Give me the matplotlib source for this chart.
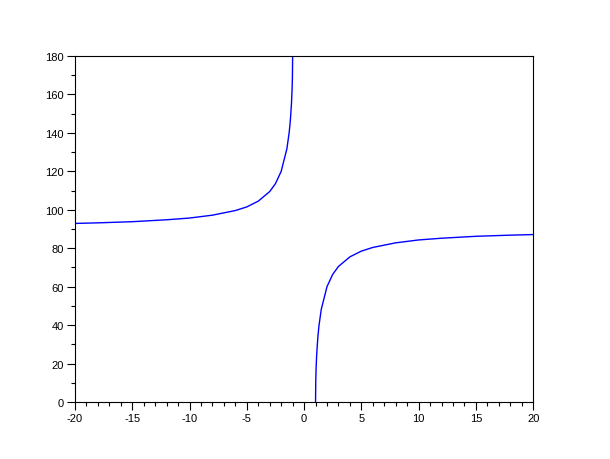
import matplotlib.pyplot as plt
from matplotlib.ticker import MultipleLocator

plt.rcParams['font.family'] = ['Liberation Sans', 'DejaVu Sans']
plt.rcParams['axes.unicode_minus'] = False

# values
x_left = [-20, -18, -15, -12, -10, -8, -6, -5, -4, -3, -2.5, -2, -1.5, -1.3, -1.2, -1.1, -1.05, -1.02, -1.0]
y_left = [92.9, 93.2, 93.8, 94.8, 95.7, 97.2, 99.6, 101.5, 104.5, 109.5, 113.6, 120.0, 131.8, 140.3, 146.4, 155.4, 162.3, 168.7, 180.0]
x_right = [1.0, 1.02, 1.05, 1.1, 1.2, 1.3, 1.5, 2, 2.5, 3, 4, 5, 6, 8, 10, 12, 15, 18, 20]
y_right = [0.0, 11.3, 17.8, 24.6, 33.6, 39.7, 48.2, 60.0, 66.4, 70.5, 75.5, 78.5, 80.4, 82.8, 84.3, 85.2, 86.2, 86.8, 87.1]

fig = plt.figure(figsize=(6.1, 4.6), dpi=100)
ax = fig.add_axes([0.123, 0.124, 0.751, 0.752])

ax.plot(x_left, y_left, color='blue', linewidth=1)
ax.plot(x_right, y_right, color='blue', linewidth=1)

ax.set_xlim(-20, 20)
ax.set_ylim(0, 180)
ax.xaxis.set_major_locator(MultipleLocator(5))
ax.xaxis.set_minor_locator(MultipleLocator(1))
ax.yaxis.set_major_locator(MultipleLocator(20))
ax.yaxis.set_minor_locator(MultipleLocator(10))
ax.tick_params(which='both', direction='out', labelsize=8, width=0.8, pad=2)
ax.tick_params(which='major', length=6)
ax.tick_params(which='minor', length=3)
for s in ax.spines.values():
    s.set_linewidth(0.8)

fig.savefig('out.png', dpi=100)
